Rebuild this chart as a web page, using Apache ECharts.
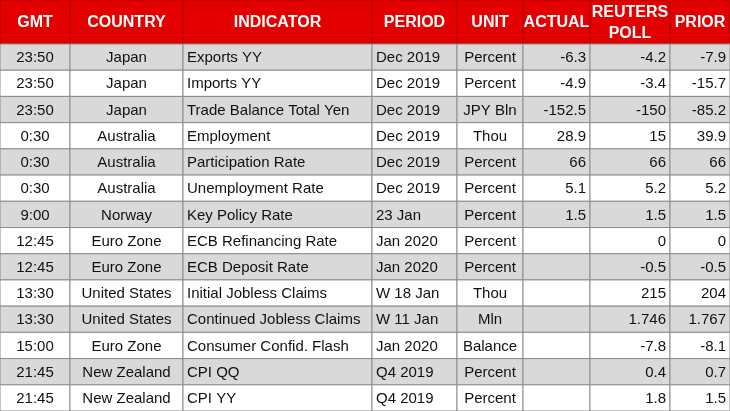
<!DOCTYPE html>
<html><head><meta charset="utf-8">
<script src="https://cdn.jsdelivr.net/npm/echarts@6/dist/echarts.min.js"></script>
<style>html,body{margin:0;padding:0;background:#fff}#c{width:730px;height:411px}</style>
</head><body><div id="c"></div>
<script>
var headers = ['GMT', 'COUNTRY', 'INDICATOR', 'PERIOD', 'UNIT', 'ACTUAL', 'REUTERS\nPOLL', 'PRIOR'];
var gmt = ['23:50','23:50','23:50','0:30','0:30','0:30','9:00','12:45','12:45','13:30','13:30','15:00','21:45','21:45'];
var country = ['Japan','Japan','Japan','Australia','Australia','Australia','Norway','Euro Zone','Euro Zone','United States','United States','Euro Zone','New Zealand','New Zealand'];
var indicator = ['Exports YY','Imports YY','Trade Balance Total Yen','Employment','Participation Rate','Unemployment Rate','Key Policy Rate','ECB Refinancing Rate','ECB Deposit Rate','Initial Jobless Claims','Continued Jobless Claims','Consumer Confid. Flash','CPI QQ','CPI YY'];
var period = ['Dec 2019','Dec 2019','Dec 2019','Dec 2019','Dec 2019','Dec 2019','23 Jan','Jan 2020','Jan 2020','W 18 Jan','W 11 Jan','Jan 2020','Q4 2019','Q4 2019'];
var unit = ['Percent','Percent','JPY Bln','Thou','Percent','Percent','Percent','Percent','Percent','Thou','Mln','Balance','Percent','Percent'];
var actual = ['-6.3','-4.9','-152.5','28.9','66','5.1','1.5','','','','','','',''];
var poll = ['-4.2','-3.4','-150','15','66','5.2','1.5','0','-0.5','215','1.746','-7.8','0.4','1.8'];
var prior = ['-7.9','-15.7','-85.2','39.9','66','5.2','1.5','0','-0.5','204','1.767','-8.1','0.7','1.5'];

// layout (column edges in pixel units of the value axes)
var colEdges = [0, 70, 183, 372, 457, 523, 590, 670, 730];
var colAlign = ['center','center','left','left','center','right','right','right'];
var headH = 44, rowH = (411 - 44) / 14;
var columns = [gmt, country, indicator, period, unit, actual, poll, prior];

var data = [];
headers.forEach(function (h, c) { data.push([c, -1, h]); });
for (var r = 0; r < gmt.length; r++) {
  for (var c = 0; c < columns.length; c++) data.push([c, r, columns[c][r]]);
}

function renderItem(params, api) {
  var c = api.value(0), r = api.value(1), txt = data[params.dataIndex][2];
  var y0 = r < 0 ? 0 : headH + r * rowH, y1 = r < 0 ? headH : headH + (r + 1) * rowH;
  var p0 = api.coord([colEdges[c], y0]), p1 = api.coord([colEdges[c + 1], y1]);
  var head = r < 0;
  var fill = head ? '#e30000' : (r % 2 === 0 ? '#d9d9d9' : '#ffffff');
  var al = colAlign[c];
  var tx = al === 'center' ? (p0[0] + p1[0]) / 2 : al === 'left' ? p0[0] + 4 : p1[0] - 4;
  if (head) tx = (p0[0] + p1[0]) / 2;
  return {
    type: 'group',
    children: [
      { type: 'rect', shape: { x: p0[0], y: p0[1], width: p1[0] - p0[0], height: p1[1] - p0[1] },
        style: { fill: fill, stroke: head ? '#b00000' : '#8c8c8c', lineWidth: 1 } },
      { type: 'text', style: {
          x: tx, y: (p0[1] + p1[1]) / 2 + 1, text: txt,
          align: head ? 'center' : al, verticalAlign: 'middle',
          fill: head ? '#fff' : '#111',
          font: (head ? 'bold 16px' : '15px') + ' "Liberation Sans Narrow", "Liberation Sans", sans-serif',
          lineHeight: 21 } }
    ]
  };
}

var chart = echarts.init(document.getElementById('c'));
chart.setOption({
  animation: false,
  grid: { left: 0, right: 0, top: 0, bottom: 0 },
  xAxis: { type: 'value', min: 0, max: 730, show: false },
  yAxis: { type: 'value', min: 0, max: 411, inverse: true, show: false },
  series: [{ type: 'custom', renderItem: renderItem, data: data, encode: { x: 0, y: 1 } }]
});
</script></body></html>
